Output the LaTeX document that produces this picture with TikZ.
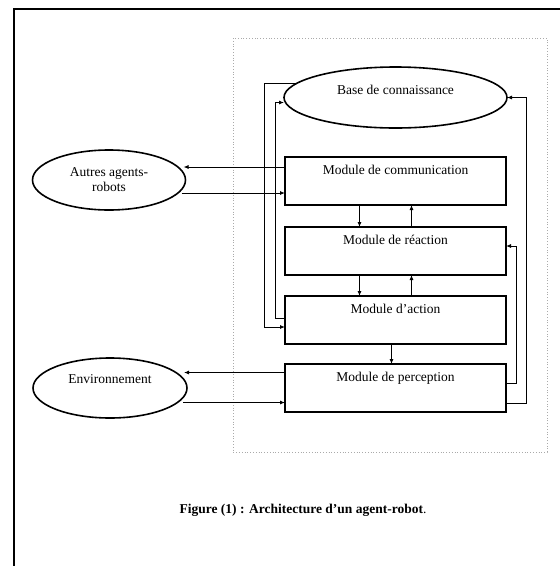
\documentclass[tikz,border=0pt]{standalone}
\usepackage{fontspec}
\setmainfont{Liberation Serif}
\usepackage{xcolor}
\definecolor{framegray}{RGB}{170, 170, 170}
\usetikzlibrary{
    shapes.geometric,
    arrows.meta,
    positioning
}

\begin{document}
\begin{tikzpicture}[
    x=1pt, y=-1pt,
    >={Latex[length=5pt,width=4pt]},
    node distance=21pt,
    every node/.style={font=\fontsize{13.5}{15}\selectfont},
    blob/.style={ellipse, draw=black, line width=1.6pt, inner sep=0pt, outer sep=0pt, align=center},
    kbase/.style={blob, minimum width=223pt, minimum height=61pt, text height=10pt, text depth=16pt},
    outside/.style={blob, minimum width=153pt, minimum height=60pt},
    module/.style={draw=black, line width=2.2pt, rectangle, inner sep=0pt, outer sep=0pt, minimum width=221pt, text height=17pt, text depth=31pt},
    link/.style={draw=black, line width=0.8pt, ->}
]
\useasboundingbox (0,0) rectangle (560,566);
\clip (0,0) rectangle (560,566);

% ==================== FRAMES ====================
\draw[line width=2.2pt] (14,620) |- (620,9);
\draw[framegray, dotted, line width=0.8pt] (233,38) rectangle (547,452);

% ==================== KNOWLEDGE BASE ====================
\node[kbase] (base) at (395.5,97.5) {Base de connaissance};

% ==================== MODULES ====================
\node[module, below=29pt of base] (comm) {Module de communication};
\node[module, below=22pt of comm] (react) {Module de réaction};
\node[module, below=21pt of react] (action) {Module d’action};
\node[module, below=20pt of action] (percep) {Module de perception};

\draw[link] ([xshift=-36pt]comm.south) -- ([xshift=-36pt]react.north);
\draw[link] ([xshift=16pt]react.north) -- ([xshift=16pt]comm.south);
\draw[link] ([xshift=-36pt]react.south) -- ([xshift=-36pt]action.north);
\draw[link] ([xshift=16pt]action.north) -- ([xshift=16pt]react.south);
\draw[link] ([xshift=-4pt]action.south) -- ([xshift=-4pt]percep.north);

% ==================== FEEDBACK LOOPS ====================
\draw[link] (base.172) -- ([xshift=-21pt]base.172 -| action.west) |- ([yshift=-7pt]action.west);
\draw[link] ([yshift=2pt]action.west) -- ++(-10pt,0) |- ([yshift=-5pt]base.west);
\draw[link] ([yshift=-15pt]percep.east) -- ++(20pt,0) |- (base.east);
\draw[link] ([yshift=5pt]percep.east) -- ++(10pt,0) |- ([yshift=5pt]react.east);

% ==================== OTHER AGENTS ====================
\node[outside] (autres) at (109,180) {Autres agents-\\robots};
\draw[link] ([yshift=14pt]comm.west) -- ([yshift=14pt,xshift=-2pt]comm.west -| autres.east);
\draw[link] ([yshift=-12pt,xshift=-4pt]comm.west -| autres.east) -- ([yshift=-12pt]comm.west);

% ==================== ENVIRONMENT ====================
\node[outside, minimum width=154pt, text height=10pt, text depth=20pt] (env) at (110,388) {Environnement};
\draw[link] ([yshift=15.5pt]percep.west) -- ([yshift=15.5pt,xshift=-3pt]percep.west -| env.east);
\draw[link] ([yshift=-14.5pt,xshift=-4pt]percep.west -| env.east) -- ([yshift=-14.5pt]percep.west);

% ==================== CAPTION ====================
\node (caption) at (303,510) {\textbf{Figure (1) : Architecture d’un agent-robot}.};

\end{tikzpicture}
\end{document}
